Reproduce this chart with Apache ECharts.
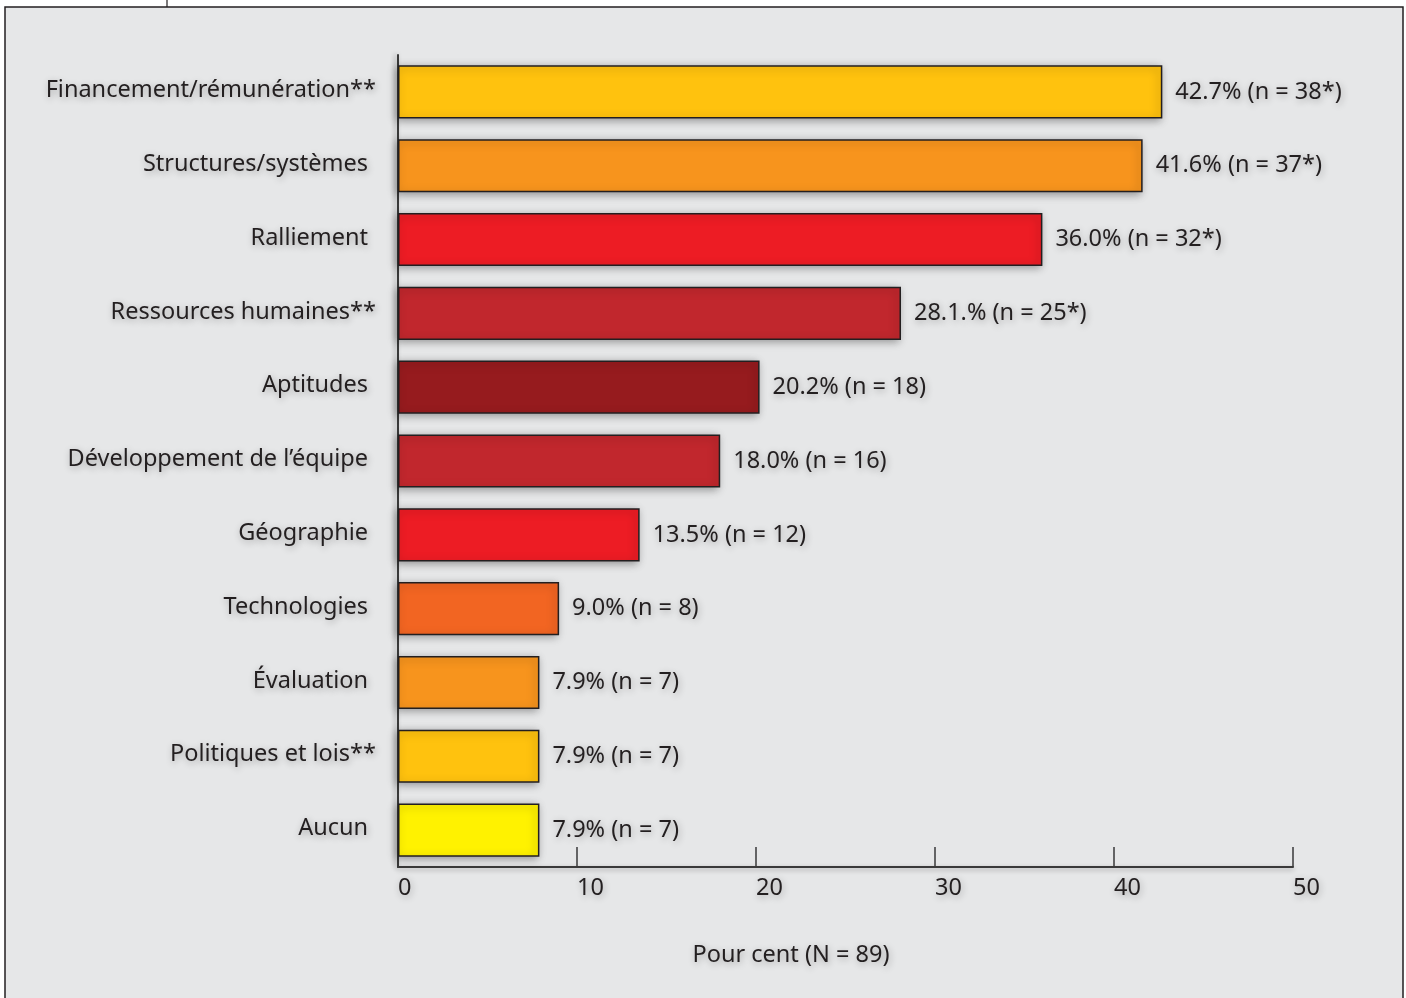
<!DOCTYPE html>
<html>
<head>
<meta charset="utf-8">
<title>Obstacles</title>
<script src="https://cdn.jsdelivr.net/npm/echarts@6/dist/echarts.min.js"></script>
<style>
  html, body { margin: 0; padding: 0; background: #ffffff; }
  #chart { width: 1406px; height: 998px; }
</style>
</head>
<body>
<div id="chart"></div>
<script>
// Categories, top to bottom
const categories = [
  'Financement/rémunération**',
  'Structures/systèmes',
  'Ralliement',
  'Ressources humaines**',
  'Aptitudes',
  'Développement de l’équipe',
  'Géographie',
  'Technologies',
  'Évaluation',
  'Politiques et lois**',
  'Aucun'
];
// Percentages (N = 89)
const percents = [42.7, 41.6, 36.0, 28.1, 20.2, 18.0, 13.5, 9.0, 7.9, 7.9, 7.9];
// Respondent counts and significance markers
const counts = [38, 37, 32, 25, 18, 16, 12, 8, 7, 7, 7];
const starred = [true, true, true, true, false, false, false, false, false, false, false];
const pctSigns = ['%', '%', '%', '.%', '%', '%', '%', '%', '%', '%', '%'];
// Bar fill colours
const barColors = ['#FFC20E', '#F7941D', '#ED1C24', '#C1272D', '#961B1E', '#C1272D',
                   '#ED1C24', '#F26522', '#F7941D', '#FFC20E', '#FFF200'];
// Value axis ticks
const xTicks = [0, 10, 20, 30, 40, 50];
const axisTitle = 'Pour cent (N = 89)';

const FONT = '"Noto Sans", sans-serif';
const FS = 23.5;
const shadow = { textShadowColor: 'rgba(0,0,0,0.3)', textShadowBlur: 7, textShadowOffsetX: 1, textShadowOffsetY: 2 };

const chart = echarts.init(document.getElementById('chart'), null, { renderer: 'canvas' });

chart.setOption({
  backgroundColor: '#ffffff',
  animation: false,
  graphic: [
    { type: 'rect', z: -10, shape: { x: 5, y: 7, width: 1398, height: 1000 },
      style: { fill: '#E6E7E8', stroke: '#231F20', lineWidth: 1.5 } },
    { type: 'line', z: -10, shape: { x1: 167, y1: 0, x2: 167, y2: 7 },
      style: { stroke: '#231F20', lineWidth: 1.2 } }
  ],
  title: {
    text: axisTitle,
    left: 791, top: 943, textAlign: 'center', padding: 0,
    textStyle: Object.assign({ fontFamily: FONT, fontSize: FS, fontWeight: 'normal', color: '#231F20' }, shadow)
  },
  grid: { left: 398, right: 113, top: 55, bottom: 131, containLabel: false },
  xAxis: {
    type: 'value', min: xTicks[0], max: xTicks[xTicks.length - 1], interval: 10,
    axisLine: { show: true, lineStyle: { color: '#3A3A3A', width: 2, shadowColor: 'rgba(0,0,0,0.3)', shadowBlur: 5, shadowOffsetY: 2 } },
    axisTick: { show: true, inside: true, length: 20, lineStyle: { color: '#3A3A3A', width: 1.5 } },
    splitLine: { show: false },
    axisLabel: Object.assign({ align: 'left', margin: 9, fontFamily: FONT, fontSize: FS, color: '#231F20' }, shadow)
  },
  yAxis: {
    type: 'category', data: categories, inverse: true,
    axisLine: { show: true, lineStyle: { color: '#3A3A3A', width: 2, shadowColor: 'rgba(0,0,0,0.3)', shadowBlur: 5, shadowOffsetX: -2 } },
    axisTick: { show: false },
    axisLabel: Object.assign({
      margin: 22, fontFamily: FONT, fontSize: FS, color: '#231F20',
      formatter: (v) => v.endsWith('**') ? '{t|' + v + '}' : '{t|' + v + '}{sp|}',
      rich: {
        t: Object.assign({ fontFamily: FONT, fontSize: FS, color: '#231F20', padding: [0, 0, 3, 0] }, shadow),
        sp: { width: 8 }
      }
    }, shadow)
  },
  series: [{
    type: 'bar',
    data: percents.map((v, i) => ({ value: v, itemStyle: { color: barColors[i] } })),
    barCategoryGap: '28%',
    itemStyle: { borderColor: '#231F20', borderWidth: 1.5,
      shadowColor: 'rgba(0,0,0,0.35)', shadowBlur: 8, shadowOffsetX: -2, shadowOffsetY: 2 },
    label: Object.assign({
      show: true, position: 'right', distance: 13,
      fontFamily: FONT, fontSize: FS, color: '#231F20',
      formatter: (p) => {
        const i = p.dataIndex;
        return percents[i].toFixed(1) + pctSigns[i] + ' (n = ' + counts[i] + (starred[i] ? '*' : '') + ')';
      }
    }, shadow)
  }]
});
</script>
</body>
</html>
